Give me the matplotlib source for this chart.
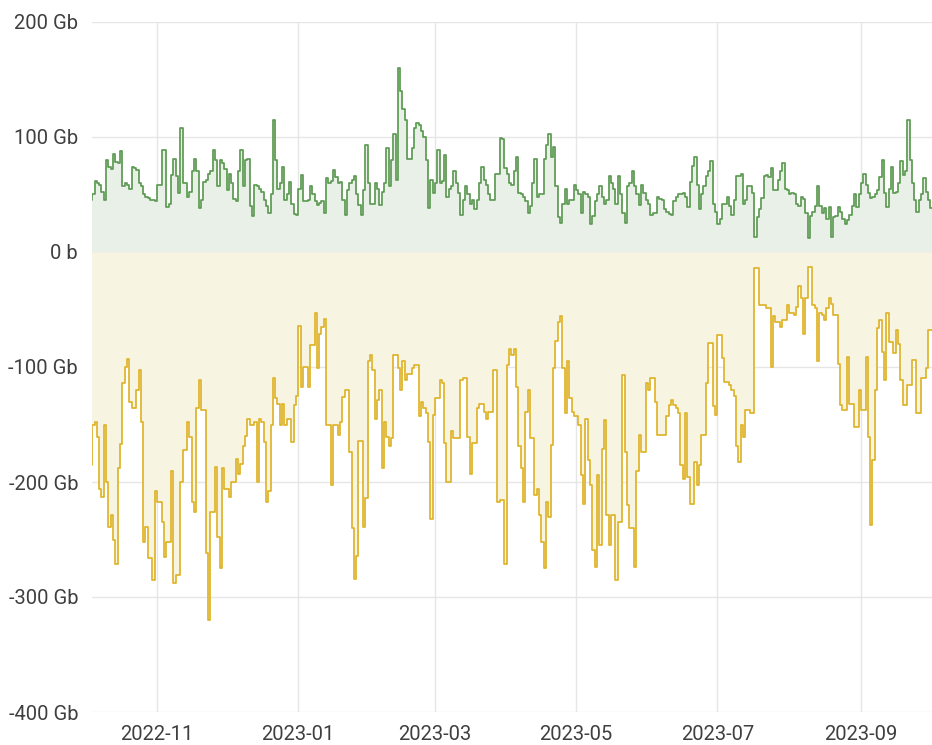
import numpy as np
import pandas as pd
import matplotlib
matplotlib.use("Agg")
import matplotlib.pyplot as plt
import matplotlib.dates as mdates
from matplotlib.ticker import FuncFormatter

# daily traffic, in Gb (received positive, sent negative)
start = "2022-10-03"

received = [
    45, 50, 62, 60, 58, 52, 45, 80, 74, 72,
    85, 78, 77, 88, 57, 60, 58, 55, 74, 73,
    71, 60, 57, 50, 48, 47, 45, 45, 44, 58,
    58, 89, 89, 39, 42, 67, 81, 66, 51, 108,
    60, 60, 48, 52, 70, 81, 70, 38, 45, 61,
    63, 68, 70, 89, 80, 57, 80, 77, 72, 54,
    68, 60, 46, 44, 70, 89, 57, 80, 81, 40,
    31, 58, 57, 55, 52, 45, 40, 34, 50, 115,
    80, 55, 60, 74, 45, 50, 61, 42, 33, 32,
    55, 67, 44, 44, 45, 57, 50, 44, 41, 43,
    44, 34, 64, 60, 62, 71, 65, 60, 61, 45,
    32, 54, 60, 63, 66, 50, 41, 32, 54, 93,
    60, 42, 42, 60, 55, 41, 52, 60, 90, 57,
    80, 103, 63, 160, 140, 124, 115, 81, 81, 90,
    108, 112, 110, 105, 100, 80, 38, 63, 51, 60,
    89, 60, 62, 84, 48, 55, 57, 70, 60, 51,
    32, 45, 57, 50, 42, 45, 37, 45, 60, 74,
    63, 58, 50, 45, 45, 68, 68, 99, 98, 73,
    68, 60, 58, 70, 83, 51, 50, 48, 44, 34,
    40, 60, 81, 48, 50, 50, 81, 93, 103, 83,
    91, 57, 30, 25, 42, 55, 42, 45, 45, 58,
    54, 50, 34, 52, 50, 48, 24, 31, 44, 50,
    57, 48, 42, 45, 66, 60, 55, 42, 66, 50,
    34, 25, 57, 60, 70, 57, 50, 41, 58, 51,
    45, 42, 32, 34, 34, 48, 46, 45, 37, 35,
    33, 32, 44, 48, 50, 50, 51, 48, 39, 61,
    75, 83, 58, 37, 50, 57, 66, 70, 79, 42,
    35, 24, 29, 42, 42, 48, 40, 32, 45, 66,
    66, 68, 42, 45, 57, 57, 51, 13, 30, 37,
    47, 66, 67, 65, 73, 54, 54, 63, 70, 77,
    55, 54, 50, 51, 50, 42, 40, 48, 46, 34,
    12, 31, 35, 40, 57, 40, 34, 38, 29, 39,
    13, 30, 31, 39, 35, 29, 24, 28, 32, 40,
    50, 39, 50, 60, 68, 58, 51, 47, 48, 50,
    54, 65, 80, 51, 39, 55, 74, 51, 52, 60,
    79, 67, 70, 115, 80, 60, 45, 35, 45, 50,
    64, 52, 45, 38,
]

sent = [
    -185, -150, -148, -161, -206, -213, -150, -200, -239, -229,
    -250, -271, -188, -167, -114, -100, -93, -130, -136, -136,
    -120, -103, -148, -252, -239, -266, -266, -285, -208, -217,
    -217, -235, -265, -252, -252, -190, -288, -281, -281, -200,
    -172, -172, -148, -161, -217, -226, -136, -111, -137, -137,
    -262, -320, -226, -226, -187, -248, -275, -188, -206, -206,
    -213, -200, -200, -180, -193, -184, -169, -160, -145, -150,
    -150, -148, -200, -145, -148, -165, -217, -208, -150, -110,
    -127, -132, -150, -132, -150, -145, -145, -165, -133, -125,
    -64, -117, -100, -100, -117, -81, -81, -53, -101, -71,
    -65, -58, -150, -150, -203, -150, -150, -159, -148, -126,
    -120, -120, -174, -240, -284, -264, -164, -164, -239, -214,
    -95, -90, -103, -145, -129, -120, -188, -148, -161, -169,
    -162, -90, -90, -101, -120, -95, -111, -106, -106, -101,
    -98, -98, -143, -130, -136, -140, -165, -232, -142, -127,
    -127, -111, -114, -166, -200, -200, -156, -162, -162, -162,
    -111, -110, -110, -161, -193, -166, -166, -136, -132, -132,
    -139, -145, -139, -139, -103, -103, -217, -216, -216, -271,
    -98, -84, -90, -84, -117, -169, -188, -217, -139, -120,
    -162, -162, -211, -206, -229, -252, -275, -217, -230, -168,
    -101, -77, -61, -56, -101, -140, -95, -127, -139, -143,
    -143, -150, -194, -219, -145, -181, -203, -259, -274, -194,
    -255, -171, -146, -229, -255, -229, -229, -285, -235, -235,
    -107, -174, -220, -240, -240, -274, -190, -159, -174, -174,
    -114, -120, -110, -110, -130, -159, -159, -159, -159, -143,
    -133, -129, -133, -136, -140, -185, -197, -140, -196, -219,
    -219, -183, -203, -185, -159, -159, -114, -79, -79, -134,
    -142, -72, -72, -92, -113, -113, -116, -120, -125, -169,
    -183, -150, -161, -137, -137, -140, -140, -14, -14, -46,
    -46, -46, -49, -49, -100, -56, -61, -61, -65, -59,
    -59, -46, -53, -53, -55, -48, -30, -40, -71, -40,
    -13, -13, -46, -49, -95, -53, -55, -59, -49, -40,
    -45, -55, -55, -97, -133, -137, -137, -91, -132, -132,
    -152, -152, -120, -137, -137, -91, -161, -237, -181, -120,
    -66, -59, -87, -111, -53, -78, -78, -88, -68, -80,
    -111, -133, -133, -116, -116, -94, -94, -140, -140, -110,
    -110, -101, -68, -68,
]

dates = pd.date_range(start, periods=len(received) + 1, freq="D")
rx = np.append(received, received[-1])
tx = np.append(sent, sent[-1])

plt.rcParams["font.family"] = ["Roboto", "DejaVu Sans"]

fig = plt.figure(figsize=(9.32, 7.45), dpi=100)
ax = fig.add_axes([92 / 932, 33 / 745, 840 / 932, 690 / 745])

green = "#5c9a52"
yellow = "#dfb42a"

ax.fill_between(dates, 0, rx, step="post", color="#e9f0e7", lw=0)
ax.fill_between(dates, 0, tx, step="post", color="#f8f4e2", lw=0)
ax.step(dates, rx, where="post", color=green, lw=1.25)
ax.step(dates, tx, where="post", color=yellow, lw=1.25)

t0 = pd.Timestamp(start)
ax.set_xlim(t0 + pd.Timedelta(days=0.9), t0 + pd.Timedelta(days=363.7))
ax.set_ylim(-400, 200)
ax.set_yticks([200, 100, 0, -100, -200, -300, -400])
ax.yaxis.set_major_formatter(FuncFormatter(lambda v, p: "0 b" if v == 0 else f"{int(v)} Gb"))

ax.xaxis.set_major_locator(mdates.MonthLocator(bymonth=[1, 3, 5, 7, 9, 11]))
ax.xaxis.set_major_formatter(mdates.DateFormatter("%Y-%m"))

ax.grid(True, color="#e6e6e6", lw=1.0)
ax.set_axisbelow(True)
for s in ax.spines.values():
    s.set_visible(False)
ax.tick_params(length=0, labelsize=14.5, colors="#3f3f3f")
ax.tick_params(axis="y", pad=10)
ax.tick_params(axis="x", pad=9)

fig.savefig("out.png", dpi=100, facecolor="white")
